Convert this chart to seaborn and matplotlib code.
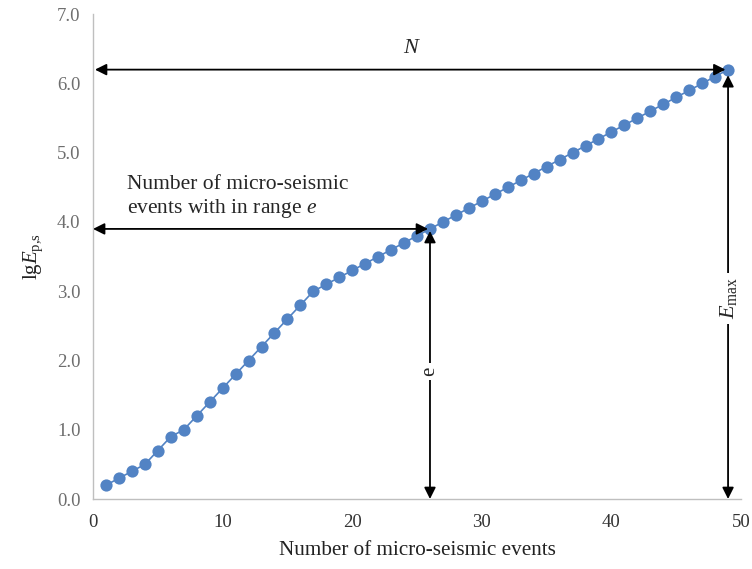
import matplotlib
matplotlib.use("Agg")
import matplotlib.pyplot as plt
import seaborn as sns
import pandas as pd

events = list(range(1, 50))
lgE = [0.2, 0.3, 0.4, 0.5, 0.7, 0.9, 1.0, 1.2, 1.4, 1.6,
       1.8, 2.0, 2.2, 2.4, 2.6, 2.8, 3.0, 3.1, 3.2, 3.3,
       3.4, 3.5, 3.6, 3.7, 3.8, 3.9, 4.0, 4.1, 4.2, 4.3,
       4.4, 4.5, 4.6, 4.7, 4.8, 4.9, 5.0, 5.1, 5.2, 5.3,
       5.4, 5.5, 5.6, 5.7, 5.8, 5.9, 6.0, 6.1, 6.2]
x_ticks = [0, 10, 20, 30, 40, 50]
y_ticks = [0.0, 1.0, 2.0, 3.0, 4.0, 5.0, 6.0, 7.0]

sns.set_style("white")
plt.rcParams['font.family'] = ['Liberation Serif', 'DejaVu Serif']
plt.rcParams['mathtext.fontset'] = 'custom'
plt.rcParams['mathtext.rm'] = 'Liberation Serif'
plt.rcParams['mathtext.it'] = 'Liberation Serif:italic'

df = pd.DataFrame({"n": events, "lgE": lgE})

fig = plt.figure(figsize=(7.52, 5.69), dpi=100)
ax = fig.add_axes([0.1237, 0.123, 0.8617, 0.852])
blue = "#5283C4"
sns.lineplot(data=df, x="n", y="lgE", ax=ax, color=blue, linewidth=1.2,
             marker="o", markersize=8.8, markeredgewidth=0, markerfacecolor=blue)

ax.set_xlim(0, 50)
ax.set_ylim(0, 7.0)
ax.set_xticks(x_ticks)
ax.set_yticks(y_ticks)
ax.set_yticklabels([f"{v:.1f}" for v in y_ticks])
for s in ["top", "right"]:
    ax.spines[s].set_visible(False)
for s in ["left", "bottom"]:
    ax.spines[s].set_color("#BFBFBF")
    ax.spines[s].set_linewidth(1.0)
ax.tick_params(axis="both", direction="out", length=5, color="#BFBFBF", width=1.0, labelsize=13.5)
ax.tick_params(axis="y", labelcolor="#6E6E6E", pad=4)
ax.tick_params(axis="x", labelcolor="#333333", pad=6)
ax.set_xlabel("Number of micro-seismic events", fontsize=15.2, color="#222222", labelpad=7)
ax.set_ylabel(r"lg$\mathit{E}_{\mathrm{p{,}s}}$", fontsize=15, color="#222222", labelpad=9)

arrow = dict(arrowstyle="<|-|>", color="black", lw=1.3, mutation_scale=17, shrinkA=0, shrinkB=0)
# N arrow
ax.annotate("", xy=(48.8, 6.2), xytext=(0.15, 6.2), arrowprops=arrow, annotation_clip=False)
ax.text(24.5, 6.5, "N", fontsize=16, style="italic", ha="center", va="center")
# range e horizontal arrow
ax.annotate("", xy=(25.85, 3.9), xytext=(0.0, 3.9), arrowprops=arrow, annotation_clip=False)
ax.text(2.6, 4.35, "Number of micro-seismic\nevents with in range $\\mathit{e}$",
        fontsize=15.5, ha="left", va="center", linespacing=1.2)
# vertical e
ax.annotate("", xy=(26, 3.87), xytext=(26, 0.0), arrowprops=arrow, annotation_clip=False)
ax.text(26, 1.84, "e", fontsize=15, rotation=90, ha="center", va="center",
        bbox=dict(facecolor="white", edgecolor="none", pad=3))
# vertical Emax
ax.annotate("", xy=(49, 6.12), xytext=(49, 0.0), arrowprops=arrow, annotation_clip=False)
ax.text(49, 2.9, r"$\mathit{E}_{\mathrm{max}}$", fontsize=16, rotation=90, ha="center", va="center",
        bbox=dict(facecolor="white", edgecolor="none", pad=3))

fig.savefig("out.png", dpi=100)
